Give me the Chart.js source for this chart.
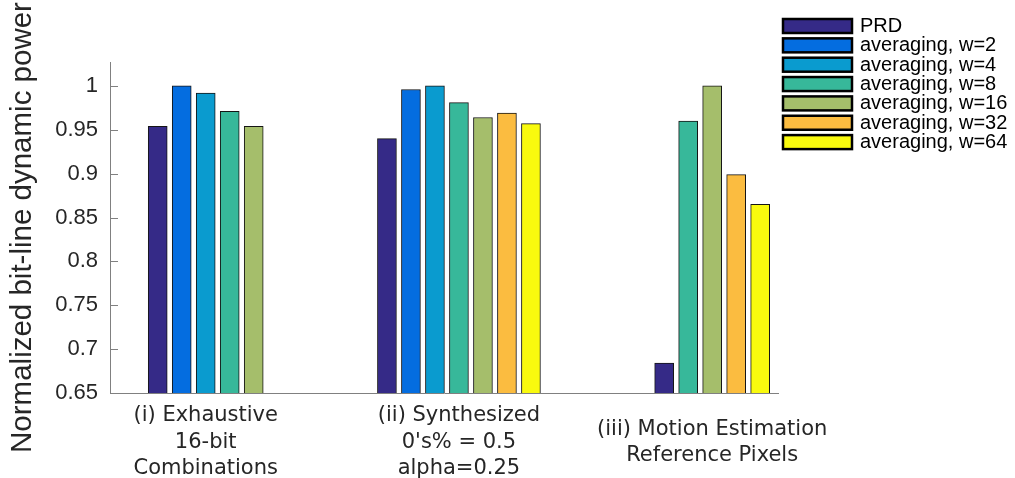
<!DOCTYPE html>
<html>
<head>
<meta charset="utf-8">
<script src="https://cdn.jsdelivr.net/npm/chart.js@4.4.1/dist/chart.umd.min.js"></script>
<style>
  html, body { margin: 0; padding: 0; background: #fff; }
</style>
</head>
<body>
<canvas id="chart" width="1015" height="478"></canvas>
<script>
// groups (x categories) and their position index on the x axis
const groupLabels = [
  ['(i) Exhaustive', '16-bit', 'Combinations'],
  ['(ii) Synthesized', "0's% = 0.5", 'alpha=0.25'],
  ['(iii) Motion Estimation', 'Reference Pixels']
];
const groupIndex = [1, 2, 3];

const seriesNames = [
  'PRD', 'averaging, w=2', 'averaging, w=4', 'averaging, w=8',
  'averaging, w=16', 'averaging, w=32', 'averaging, w=64'
];
const seriesColors = ['#352a87', '#046de0', '#0a9bcf', '#37b89a', '#a5be6b', '#fbbc40', '#f9fa0e'];

// values per group, null = no bar in that group
const prd = [0.954, 0.940, 0.684];
const w2  = [1.000, 0.996, null];
const w4  = [0.992, 1.000, null];
const w8  = [0.971, 0.981, 0.960];
const w16 = [0.954, 0.964, 1.000];
const w32 = [null, 0.969, 0.899];
const w64 = [null, 0.957, 0.865];

const yTicks = [0.65, 0.7, 0.75, 0.8, 0.85, 0.9, 0.95, 1];

const series = [prd, w2, w4, w8, w16, w32, w64];
const textColor = '#262626';
const axisColor = '#808080';

Chart.defaults.font.family = '"Liberation Sans", Arial, sans-serif';

// small tick marks drawn inward like matlab
const innerTicks = {
  id: 'innerTicks',
  afterDraw(chart) {
    const ys = chart.scales.y;
    const ctx = chart.ctx;
    ctx.save();
    ctx.strokeStyle = axisColor;
    ctx.lineWidth = 1;
    ys.ticks.forEach(t => {
      const py = Math.round(ys.getPixelForValue(t.value)) + 0.5;
      ctx.beginPath();
      ctx.moveTo(ys.right, py);
      ctx.lineTo(ys.right + 8, py);
      ctx.stroke();
    });
    ctx.restore();
  }
};

// legend box in the top right corner
const boxLegend = {
  id: 'boxLegend',
  afterDraw(chart) {
    const ctx = chart.ctx;
    ctx.save();
    ctx.font = '20px "Liberation Sans", Arial, sans-serif';
    ctx.textBaseline = 'middle';
    chart.data.datasets.forEach((ds, i) => {
      const top = 19 + i * 19.35;
      ctx.fillStyle = ds.backgroundColor;
      ctx.fillRect(783, top, 69, 14);
      ctx.lineWidth = 2.5;
      ctx.strokeStyle = '#000';
      ctx.strokeRect(783, top, 69, 14);
      ctx.fillStyle = '#000';
      ctx.fillText(ds.label, 860, top + 7.5);
    });
    ctx.restore();
  }
};

new Chart(document.getElementById('chart'), {
  type: 'bar',
  data: {
    datasets: series.map((vals, i) => ({
      label: seriesNames[i],
      data: vals.map((v, j) => ({ x: groupIndex[j], y: v })),
      backgroundColor: seriesColors[i],
      borderColor: '#151515',
      borderWidth: 1,
      barThickness: 24,
      maxBarThickness: 19,
      skipNull: true
    }))
  },
  options: {
    responsive: false,
    animation: false,
    layout: { padding: { top: 62, right: 237, left: 0, bottom: 0 } },
    plugins: {
      legend: { display: false },
      tooltip: { enabled: false }
    },
    scales: {
      x: {
        type: 'linear',
        offset: false,
        min: 0.622,
        max: 3.26,
        afterBuildTicks: s => { s.ticks = groupIndex.map(v => ({ value: v })); },
        afterFit: s => { s.height = 85; },
        grid: { display: false, drawTicks: false, offset: false },
        border: { display: true, color: axisColor, width: 1 },
        ticks: {
          callback: (v, i) => groupLabels[i],
          font: { family: '"DejaVu Sans", Verdana, sans-serif', size: 21, lineHeight: 1.25 },
          color: textColor,
          padding: 23,
          maxRotation: 0,
          autoSkip: false,
          crossAlign: 'center'
        }
      },
      y: {
        min: 0.65,
        max: 1.0273,
        afterBuildTicks: s => { s.ticks = yTicks.map(v => ({ value: v })); },
        afterFit: s => { s.width = 110; },
        grid: { display: false, drawTicks: false },
        border: { display: true, color: axisColor, width: 1 },
        ticks: {
          callback: v => String(+v.toFixed(2)),
          font: { size: 22 },
          color: textColor,
          padding: 12
        },
        title: {
          display: true,
          text: 'Normalized bit-line dynamic power',
          font: { size: 29.5 },
          color: textColor,
          padding: { top: 5, bottom: 0 }
        }
      }
    }
  },
  plugins: [innerTicks, boxLegend]
});
</script>
</body>
</html>
